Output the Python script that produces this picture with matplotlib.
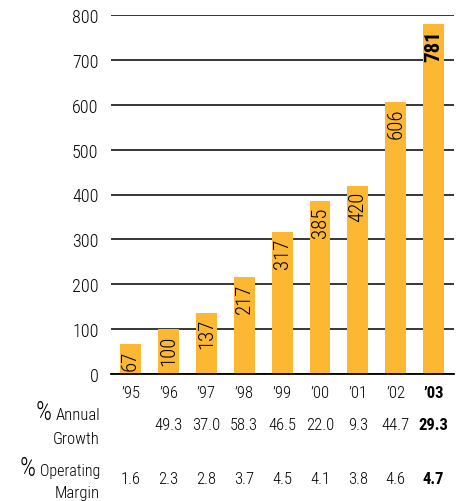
import numpy as np
import matplotlib
matplotlib.use("Agg")
import matplotlib.pyplot as plt
import matplotlib.transforms as mtransforms

# ── Data ────────────────────────────────────────────────────────────────────
years = ["\u201995", "\u201996", "\u201997", "\u201998", "\u201999",
         "\u201900", "\u201901", "\u201902", "\u201903"]
sales = [67, 100, 137, 217, 317, 385, 420, 606, 781]
growth = ["", "49.3", "37.0", "58.3", "46.5", "22.0", "9.3", "44.7", "29.3"]
margin = ["1.6", "2.3", "2.8", "3.7", "4.5", "4.1", "3.8", "4.6", "4.7"]
yticks = [0, 100, 200, 300, 400, 500, 600, 700, 800]

plt.rcParams["font.family"] = ["Roboto Condensed", "DejaVu Sans"]
plt.rcParams["font.weight"] = "light"

bar_color = "#FDB833"
W, H = 466, 502

# ── Plot ─────────────────────────────────────────────────────────────────────
fig = plt.figure(figsize=(W / 100, H / 100), dpi=100)
ax = fig.add_axes([111 / W, 1 - 375 / H, 343 / W, 359 / H])

x = np.arange(len(sales))
ax.bar(x, sales, width=0.55, color=bar_color, zorder=2)

last = len(sales) - 1
for i, v in enumerate(sales):
    ax.annotate(str(v), (x[i], v), xytext=(0, -4), textcoords="offset points",
                rotation=90, ha="center", va="top", fontsize=15,
                fontweight="bold" if i == last else "light", zorder=3)

ax.set_ylim(0, 800)
ax.set_xlim(-0.515, 8.535)
ax.set_yticks(yticks)
ax.yaxis.grid(True, color="black", linewidth=1.1)
ax.set_axisbelow(True)
ax.tick_params(axis="y", length=0, pad=9, labelsize=13)
ax.tick_params(axis="x", length=0, pad=8, labelsize=12)
ax.set_xticks(x)
ax.set_xticklabels(years)
ax.get_xticklabels()[-1].set_fontweight("bold")
for s in ["top", "right", "left"]:
    ax.spines[s].set_visible(False)
ax.spines["bottom"].set_linewidth(1.3)

# ── Table below the bars ────────────────────────────────────────────────────
trans = mtransforms.blended_transform_factory(ax.transData, fig.transFigure)

def fy(px):
    return 1 - px / H

for i in range(len(sales)):
    w = "bold" if i == last else "light"
    ax.text(x[i], fy(425), growth[i], transform=trans, ha="center", va="center",
            fontsize=12, fontweight=w)
    ax.text(x[i], fy(480), margin[i], transform=trans, ha="center", va="center",
            fontsize=12, fontweight=w)

rows = [("Annual", 420, 12), ("Operating", 476, 11.5)]
fig.text(100 / W, fy(444), "Growth", ha="right", va="baseline", fontsize=12)
fig.text(100 / W, fy(498), "Margin", ha="right", va="baseline", fontsize=12)

fig.draw_without_rendering()
for label, base, size in rows:
    t = fig.text(100 / W, fy(base), label, ha="right", va="baseline", fontsize=size)
    fig.draw_without_rendering()
    bb = t.get_window_extent()
    # large percent sign sits just left of the row label, on the same baseline
    fig.text((bb.x0 - 4) / W, fy(base), "%", fontsize=18, ha="right",
             va="baseline")

fig.savefig("out.png", dpi=100)
